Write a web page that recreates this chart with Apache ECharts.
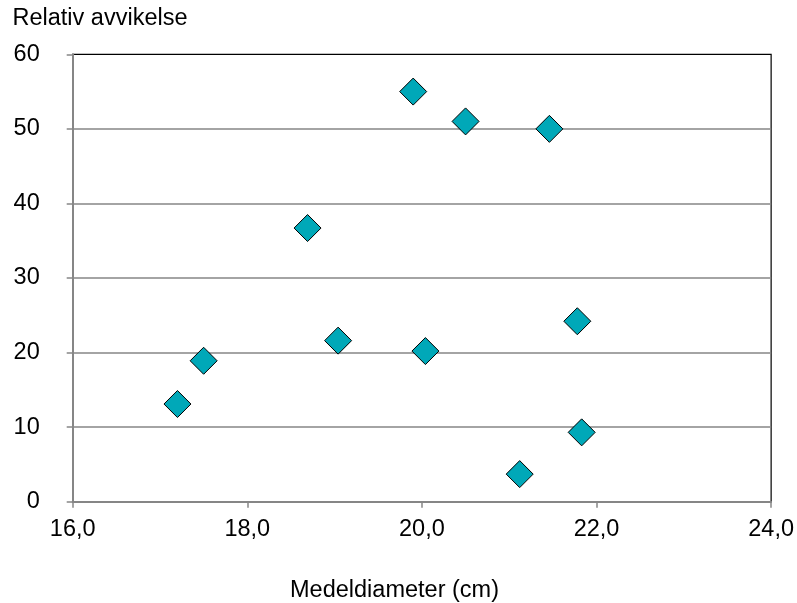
<!DOCTYPE html>
<html>
<head>
<meta charset="utf-8">
<script src="https://cdn.jsdelivr.net/npm/echarts@6/dist/echarts.min.js"></script>
<style>html,body{margin:0;padding:0;background:#fff}#c{width:797px;height:603px}</style>
</head>
<body>
<div id="c"></div>
<script>
var diameter = [17.20, 17.50, 18.69, 19.04, 19.90, 20.04, 20.50, 21.12, 21.46, 21.78, 21.83];
var deviation = [13.1, 18.9, 36.7, 21.6, 55.0, 20.2, 51.0, 3.7, 50.0, 24.2, 9.3];
var yTitle = 'Relativ avvikelse';
var xTitle = 'Medeldiameter (cm)';

var FONT = '"Liberation Sans", Arial, sans-serif';
var FS = 23.5;
var points = diameter.map(function (d, i) { return [d, deviation[i]]; });

var chart = echarts.init(document.getElementById('c'), null, {renderer: 'canvas'});
chart.setOption({
  animation: false,
  backgroundColor: '#fff',
  grid: {left: 72.7, right: 24.3, top: 54.3, bottom: 101.3, show: true, borderColor: '#000', borderWidth: 1.2, containLabel: false},
  graphic: [
    {type: 'text', left: 12.5, top: 6.5, style: {text: yTitle, font: FS + 'px ' + FONT, fill: '#000'}},
    {type: 'text', x: 394.5, y: 590.5, style: {text: xTitle, font: FS + 'px ' + FONT, fill: '#000', align: 'center', verticalAlign: 'middle'}}
  ],
  xAxis: {
    type: 'value', min: 16, max: 24, interval: 2,
    axisLine: {show: true, lineStyle: {color: '#868686', width: 2}},
    axisTick: {show: true, inside: false, length: 6, lineStyle: {color: '#868686', width: 1.5}},
    axisLabel: {margin: 16, color: '#000', fontSize: FS, fontFamily: FONT,
      formatter: function (v) { return v.toFixed(1).replace('.', ','); }},
    splitLine: {show: false}
  },
  yAxis: {
    type: 'value', min: 0, max: 60, interval: 10,
    axisLine: {show: true, onZero: false, lineStyle: {color: '#868686', width: 2}},
    axisTick: {show: true, inside: false, length: 6, lineStyle: {color: '#868686', width: 1.5}},
    axisLabel: {margin: 33, color: '#000', fontSize: FS, fontFamily: FONT},
    splitLine: {show: true, showMinLine: false, showMaxLine: false, lineStyle: {color: '#868686', width: 1.5}}
  },
  series: [{
    type: 'scatter',
    data: points,
    symbol: 'diamond',
    symbolSize: 27,
    itemStyle: {color: '#00A8B8', borderColor: '#000', borderWidth: 1, opacity: 1}
  }]
});
</script>
</body>
</html>
